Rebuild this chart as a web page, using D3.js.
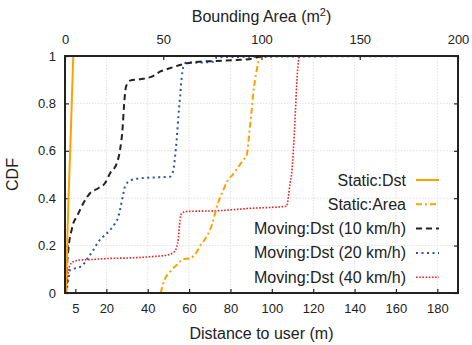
<!DOCTYPE html>
<html><head><meta charset="utf-8">
<script src="https://cdn.jsdelivr.net/npm/d3@7"></script>
<style>body{margin:0;background:#fff;} text{font-family:"Liberation Sans",Arial,sans-serif;}</style>
</head><body><svg id="c" width="472" height="345"></svg>
<script>
// Static:Dst — distance (m) vs CDF
const staticDstX = [0.4, 0.8, 1.2, 1.7, 2.3, 2.9, 3.5, 4.0];
const staticDstY = [0.0, 0.1, 0.25, 0.4, 0.55, 0.7, 0.87, 1.0];
// Static:Area — bounding area (m^2) vs CDF (top axis)
const staticAreaX = [48.7, 50.0, 50.9, 53.4, 56.8, 60.2, 63.6, 67.0, 68.7, 72.1, 73.8, 75.5, 76.8, 78.4, 80.6, 82.3, 85.6, 88.2, 90.7, 92.5, 93.3, 94.1, 95.0, 95.8, 96.7, 97.6, 98.4, 99.2];
const staticAreaY = [0.0, 0.04, 0.06, 0.089, 0.118, 0.143, 0.146, 0.173, 0.198, 0.238, 0.266, 0.308, 0.35, 0.392, 0.435, 0.468, 0.502, 0.532, 0.561, 0.582, 0.633, 0.70, 0.772, 0.844, 0.899, 0.941, 0.975, 0.998];
// Moving:Dst (10 km/h)
const mov10X = [0.5, 0.8, 1.6, 3.2, 4.0, 5.7, 8.8, 12.1, 16.1, 19.3, 21.8, 25.0, 26.6, 27.9, 28.5, 29.5, 31.4, 36.3, 42.7, 45.9, 49.2, 55.6, 58.8, 65.3, 73.3, 83.0, 91.0, 94.3, 99.0];
const mov10Y = [0.0, 0.084, 0.181, 0.266, 0.294, 0.322, 0.378, 0.421, 0.442, 0.463, 0.505, 0.547, 0.603, 0.702, 0.786, 0.87, 0.896, 0.902, 0.916, 0.934, 0.944, 0.962, 0.969, 0.976, 0.979, 0.983, 0.99, 0.997, 1.0];
// Moving:Dst (20 km/h)
const mov20X = [0.5, 0.8, 1.6, 2.4, 4.8, 8.1, 11.3, 13.7, 16.1, 18.5, 21.8, 24.2, 25.8, 26.9, 27.9, 29.0, 31.4, 36.3, 44.3, 50.8, 52.4, 53.2, 54.0, 54.8, 55.6, 56.4, 57.2, 58.8, 63.7, 71.7, 73.3, 79.8, 190];
const mov20Y = [0.0, 0.013, 0.055, 0.097, 0.104, 0.114, 0.151, 0.181, 0.216, 0.238, 0.266, 0.294, 0.322, 0.364, 0.406, 0.449, 0.474, 0.484, 0.488, 0.491, 0.519, 0.575, 0.646, 0.744, 0.823, 0.907, 0.954, 0.973, 0.972, 0.976, 0.994, 0.996, 1.0];
// Moving:Dst (40 km/h)
const mov40X = [0.5, 1.0, 1.6, 2.1, 4.0, 7.3, 12.1, 21.8, 31.4, 41.1, 49.2, 52.4, 54.0, 54.8, 55.6, 56.4, 58.8, 73.3, 89.4, 107.2, 108.0, 108.8, 109.6, 110.4, 111.2, 112.0, 112.8, 113.3];
const mov40Y = [0.0, 0.034, 0.089, 0.111, 0.132, 0.139, 0.141, 0.146, 0.148, 0.153, 0.16, 0.171, 0.194, 0.232, 0.308, 0.336, 0.344, 0.347, 0.357, 0.366, 0.406, 0.463, 0.505, 0.603, 0.73, 0.878, 0.975, 0.998];

const bottomTicks = [5, 20, 40, 60, 80, 100, 120, 140, 160, 180];
const topTicks = [0, 50, 100, 150, 200];
const yTicks = [0, 0.2, 0.4, 0.6, 0.8, 1];
const seriesNames = ["Static:Dst", "Static:Area", "Moving:Dst (10 km/h)", "Moving:Dst (20 km/h)", "Moving:Dst (40 km/h)"];

const L = 65, R = 458, T = 56, B = 293;
const svg = d3.select("#c");
const x = d3.scaleLinear().domain([0, 190]).range([L, R]);
const xa = d3.scaleLinear().domain([0, 200]).range([L, R]);
const y = d3.scaleLinear().domain([0, 1]).range([B, T]);

svg.append("defs").append("clipPath").attr("id", "clip")
  .append("rect").attr("x", L).attr("y", T - 1).attr("width", R - L).attr("height", B - T + 1);

// grid
const grid = svg.append("g").attr("stroke", "#d8d8d8").attr("stroke-width", 0.8).attr("stroke-dasharray", "1.5,1.5");
yTicks.slice(1, -1).forEach(v => grid.append("line").attr("x1", L).attr("x2", R).attr("y1", y(v)).attr("y2", y(v)));
bottomTicks.slice(1).forEach(v => grid.append("line").attr("x1", x(v)).attr("x2", x(v)).attr("y1", T).attr("y2", B));

// axes
const fmtY = d => d === 0 ? "0" : d === 1 ? "1" : d3.format(".1f")(d);
const ax = (g) => { g.select(".domain").remove(); g.selectAll("text").attr("fill", "#222").attr("font-size", 13).attr("font-family", "'Liberation Sans',Arial,sans-serif"); g.selectAll("line").attr("stroke", "#222").attr("stroke-width", 1.2); };
svg.append("g").attr("transform", `translate(0,${B})`)
  .call(d3.axisBottom(x).tickValues(bottomTicks).tickSizeInner(-4).tickSizeOuter(0).tickPadding(11)).call(ax);
svg.append("g").attr("transform", `translate(0,${T})`)
  .call(d3.axisTop(xa).tickValues(topTicks).tickSizeInner(-4).tickSizeOuter(0).tickPadding(12)).call(ax);
svg.append("g").attr("transform", `translate(${L},0)`)
  .call(d3.axisLeft(y).tickValues(yTicks).tickFormat(fmtY).tickSizeInner(-4).tickSizeOuter(0).tickPadding(9)).call(ax);
svg.append("g").attr("transform", `translate(${R},0)`)
  .call(d3.axisRight(y).tickValues(yTicks).tickFormat("").tickSizeInner(-4).tickSizeOuter(0)).call(ax);

// titles
svg.append("text").attr("x", (L + R) / 2).attr("y", 339).attr("text-anchor", "middle").attr("font-size", 16).attr("fill", "#222").text("Distance to user (m)");
const tt = svg.append("text").attr("x", (L + R) / 2).attr("y", 22).attr("text-anchor", "middle").attr("font-size", 16).attr("fill", "#222");
tt.append("tspan").text("Bounding Area (m");
tt.append("tspan").attr("font-size", 11).attr("dy", -6).text("2");
tt.append("tspan").attr("dy", 6).text(")");
svg.append("text").attr("transform", `translate(18,${(T + B) / 2}) rotate(-90)`).attr("text-anchor", "middle").attr("font-size", 16).attr("fill", "#222").text("CDF");

// series
const styles = [
  {c: "#ffa000", w: 2, d: null},
  {c: "#ffa000", w: 2, d: "6,3,2,3"},
  {c: "#222222", w: 2, d: "6,4"},
  {c: "#2f4fa8", w: 2, d: "2,3.5"},
  {c: "#f02020", w: 1.6, d: "1.6,1.6"}
];
const data = [
  {xs: staticDstX, ys: staticDstY, sx: x},
  {xs: staticAreaX, ys: staticAreaY, sx: xa},
  {xs: mov10X, ys: mov10Y, sx: x},
  {xs: mov20X, ys: mov20Y, sx: x},
  {xs: mov40X, ys: mov40Y, sx: x}
];
const plot = svg.append("g").attr("clip-path", "url(#clip)");
[4, 3, 1, 2, 0].forEach(i => {
  const s = data[i], st = styles[i];
  const pts = s.xs.map((v, k) => [v, s.ys[k]]);
  const line = d3.line().x(p => s.sx(p[0])).y(p => y(p[1])).curve(d3.curveMonotoneX);
  plot.append("path").attr("d", line(pts)).attr("fill", "none").attr("stroke", st.c)
    .attr("stroke-width", st.w).attr("stroke-dasharray", st.d);
});

// frame
svg.append("rect").attr("x", L).attr("y", T).attr("width", R - L).attr("height", B - T)
  .attr("fill", "none").attr("stroke", "#222").attr("stroke-width", 2);

// legend
const lg = svg.append("g");
seriesNames.forEach((n, i) => {
  const yy = 180 + i * 24.3;
  lg.append("text").attr("x", 406).attr("y", yy + 5.5).attr("text-anchor", "end").attr("font-size", 16).attr("fill", "#222").text(n);
  lg.append("line").attr("x1", 416).attr("x2", 439).attr("y1", yy).attr("y2", yy)
    .attr("stroke", styles[i].c).attr("stroke-width", styles[i].w).attr("stroke-dasharray", styles[i].d);
});
</script></body></html>
